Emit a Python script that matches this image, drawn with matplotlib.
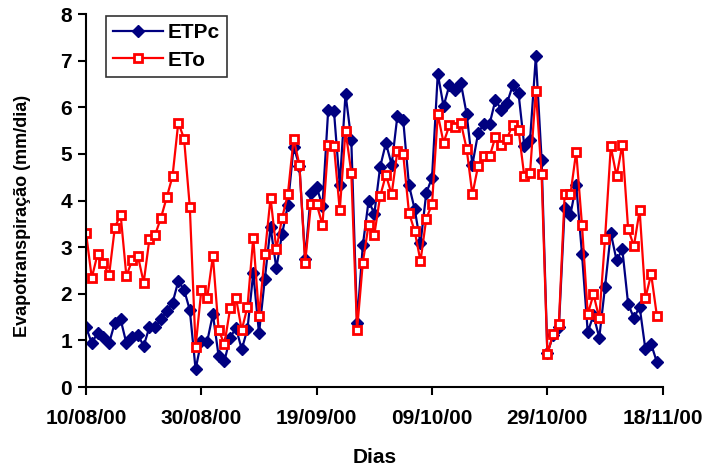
import numpy as np
import pandas as pd
import matplotlib
matplotlib.use('Agg')
import matplotlib.pyplot as plt
import matplotlib.dates as mdates

plt.rcParams['font.family'] = ['Liberation Sans', 'DejaVu Sans']
plt.rcParams['font.weight'] = 'bold'

# ETPc e ETo diários (mm/dia), a partir de 10/08/2000
etpc = [1.29, 0.94, 1.16, 1.08, 0.94, 1.38, 1.45, 0.94, 1.08, 1.12,
        0.88, 1.29, 1.29, 1.45, 1.63, 1.80, 2.27, 2.09, 1.65, 0.38,
        0.99, 0.97, 1.56, 0.66, 0.56, 1.06, 1.27, 0.81, 1.24, 2.45,
        1.15, 2.31, 3.43, 2.55, 3.28, 3.90, 5.15, 4.75, 2.75, 4.16,
        4.29, 3.88, 5.95, 5.91, 4.33, 6.29, 5.30, 1.38, 3.04, 3.99,
        3.72, 4.72, 5.23, 4.77, 5.82, 5.73, 4.33, 3.81, 3.08, 4.16,
        4.49, 6.72, 6.02, 6.47, 6.37, 6.52, 5.86, 4.77, 5.45, 5.65,
        5.65, 6.16, 5.95, 6.09, 6.47, 6.30, 5.17, 5.30, 7.09, 4.88,
        0.72, 1.11, 1.29, 3.85, 3.70, 4.34, 2.86, 1.18, 1.54, 1.06,
        2.15, 3.30, 2.72, 2.95, 1.79, 1.48, 1.72, 0.81, 0.92, 0.53]

eto = [3.31, 2.34, 2.85, 2.65, 2.40, 3.42, 3.70, 2.38, 2.72, 2.81,
       2.24, 3.18, 3.27, 3.63, 4.07, 4.52, 5.67, 5.33, 3.86, 0.86,
       2.08, 1.90, 2.81, 1.22, 0.92, 1.69, 1.92, 1.22, 1.72, 3.20,
       1.52, 2.85, 4.06, 2.95, 3.63, 4.13, 5.33, 4.77, 2.67, 3.92,
       3.92, 3.48, 5.20, 5.17, 3.79, 5.50, 4.60, 1.22, 2.67, 3.48,
       3.27, 4.09, 4.55, 4.13, 5.07, 5.00, 3.74, 3.34, 2.70, 3.61,
       3.92, 5.85, 5.24, 5.61, 5.57, 5.67, 5.11, 4.13, 4.75, 4.95,
       4.95, 5.37, 5.20, 5.33, 5.63, 5.52, 4.52, 4.60, 6.36, 4.56,
       0.71, 1.13, 1.36, 4.13, 4.13, 5.05, 3.48, 1.56, 1.99, 1.47,
       3.18, 5.16, 4.52, 5.20, 3.40, 3.02, 3.79, 1.91, 2.42, 1.52]

dias = pd.date_range('2000-08-10', periods=len(etpc), freq='D')
xticks = pd.date_range('2000-08-10', '2000-11-18', freq='20D')

fig = plt.figure(figsize=(7.05, 4.68), dpi=100)
ax = fig.add_axes([0.122, 0.173, 0.818, 0.797])

ax.plot(dias, etpc, color='#000080', lw=1.6, marker='D', ms=6,
        mfc='#000080', mec='#000080', label='ETPc')
ax.plot(dias, eto, color='#ff0000', lw=1.6, marker='s', ms=6,
        mfc='white', mec='#ff0000', mew=2, label='ETo')

ax.set_xlim(xticks[0], xticks[-1])
ax.set_ylim(0, 8)
ax.set_yticks(range(0, 9))
ax.set_xticks(xticks)
ax.xaxis.set_major_formatter(mdates.DateFormatter('%d/%m/%y'))

for s in ['top', 'right']:
    ax.spines[s].set_visible(False)
for s in ['left', 'bottom']:
    ax.spines[s].set_linewidth(1.5)
    ax.spines[s].set_color('black')

ax.tick_params(axis='x', direction='out', length=6, width=1.5, labelsize=15, pad=10)
ax.tick_params(axis='y', direction='out', length=6, width=1.5, labelsize=15, pad=4)
for lab in ax.get_xticklabels() + ax.get_yticklabels():
    lab.set_fontweight('bold')

ax.set_xlabel('Dias', fontsize=15, fontweight='bold', labelpad=14)
ax.set_ylabel('Evapotranspiração (mm/dia)', fontsize=13, fontweight='bold')
ax.yaxis.set_label_coords(-0.095, 0.46)

# legenda com moldura preta no canto superior esquerdo
leg = ax.legend(loc='upper left', bbox_to_anchor=(0.035, 0.995), borderaxespad=0,
                prop={'weight': 'bold', 'size': 15},
                frameon=True, fancybox=False, edgecolor='black',
                handlelength=2.4, borderpad=0.35, labelspacing=0.4,
                handletextpad=0.2)
leg.get_frame().set_linewidth(1.2)

fig.savefig('out.png', dpi=100)
